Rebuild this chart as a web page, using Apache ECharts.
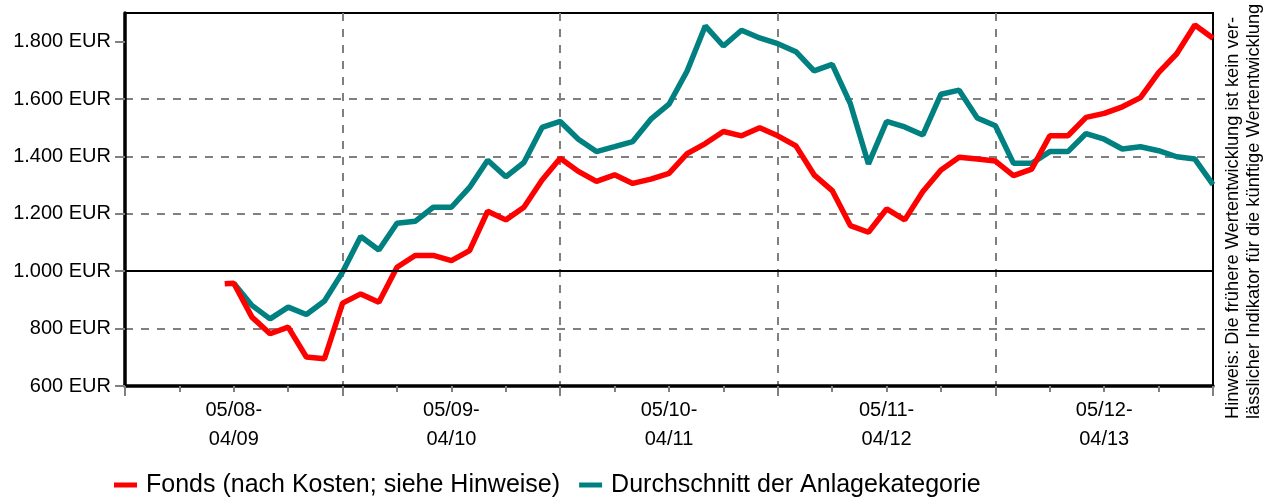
<!DOCTYPE html>
<html>
<head>
<meta charset="utf-8">
<script src="https://cdn.jsdelivr.net/npm/echarts@6/dist/echarts.min.js"></script>
<style>
html,body{margin:0;padding:0;background:#fff;}
#chart{width:1272px;height:497px;}
</style>
</head>
<body>
<div id="chart"></div>
<script>
// ---- data ----
const periodLabels = ['05/08-\n04/09', '05/09-\n04/10', '05/10-\n04/11', '05/11-\n04/12', '05/12-\n04/13'];
const yTickValues = [600, 800, 1000, 1200, 1400, 1600, 1800];
const fondsName = 'Fonds (nach Kosten; siehe Hinweise)';
const avgName = 'Durchschnitt der Anlagekategorie';
// months counted from 05/2008; the fund line starts half a month before the category line
const fondsFirstMonth = 5.5;
const fondsValues = [956, 958, 840, 782, 805, 701, 695, 889, 921, 892, 1014, 1055, 1055, 1037, 1072,
  1209, 1179, 1223, 1318, 1394, 1348, 1313, 1336, 1306, 1321, 1341, 1410, 1445, 1487, 1472, 1500,
  1472, 1437, 1336, 1281, 1159, 1136, 1217, 1179, 1278, 1353, 1397, 1391, 1384, 1333, 1356, 1472, 1472,
  1536, 1550, 1573, 1605, 1692, 1758, 1858, 1812];
const avgFirstMonth = 6;
const avgValues = [958, 881, 834, 875, 849, 896, 997, 1121, 1074, 1167, 1174, 1223, 1223, 1292,
  1387, 1329, 1379, 1501, 1522, 1460, 1417, 1434, 1452, 1530, 1582, 1698, 1855, 1785, 1840, 1813,
  1793, 1765, 1698, 1721, 1584, 1374, 1522, 1503, 1475, 1617, 1631, 1534, 1507, 1376, 1376,
  1417, 1417, 1480, 1460, 1426, 1434, 1420, 1399, 1391, 1302];
const noteText = 'Hinweis: Die frühere Wertentwicklung ist kein ver-\nlässlicher Indikator für die künftige Wertentwicklung';

// first point at firstMonth, following points on whole months
function toPoints(firstMonth, values) {
  const base = Math.ceil(firstMonth);
  return values.map((v, i) => {
    if (i === 0) return [firstMonth, v];
    return [firstMonth % 1 ? base + i - 1 : firstMonth + i, v];
  });
}
const fondsData = toPoints(fondsFirstMonth, fondsValues);
const avgData = toPoints(avgFirstMonth, avgValues);

const FONT = "'Liberation Sans', Arial, sans-serif";
const gridGray = '#808080';

function fmtEur(v) {
  const s = String(Math.round(v));
  const t = s.length > 3 ? s.slice(0, s.length - 3) + '.' + s.slice(s.length - 3) : s;
  return t + ' EUR';
}

const chart = echarts.init(document.getElementById('chart'), null, {renderer: 'canvas'});
chart.setOption({
  animation: false,
  backgroundColor: '#fff',
  textStyle: {fontFamily: FONT},
  grid: {left: 125, right: 59, top: 13, bottom: 111, show: true, borderColor: '#000', borderWidth: 2, backgroundColor: 'transparent'},
  legend: {
    data: [fondsName, avgName],
    left: 114, top: 471, padding: 0,
    icon: 'rect', itemWidth: 23, itemHeight: 5, itemGap: 19,
    textStyle: {fontSize: 25, color: '#000', fontFamily: FONT, padding: [0, 0, 0, 4], lineHeight: 28}
  },
  xAxis: [
    {
      type: 'category', position: 'bottom', data: periodLabels, boundaryGap: true,
      axisLine: {show: false}, axisTick: {show: false}, splitLine: {show: false},
      axisLabel: {fontSize: 20, lineHeight: 29, margin: 10, color: '#000', fontFamily: FONT}
    },
    {
      type: 'value', position: 'bottom', min: 0, max: 60, interval: 12,
      axisLine: {show: true, onZero: false, lineStyle: {color: '#000', width: 3.5}},
      axisTick: {show: true, length: 10, lineStyle: {color: gridGray, width: 2}},
      minorTick: {show: true, splitNumber: 4, length: 6, lineStyle: {color: gridGray, width: 2}},
      axisLabel: {show: false},
      splitLine: {show: true, showMinLine: false, showMaxLine: false, lineStyle: {color: gridGray, width: 2, type: [8, 8]}}
    }
  ],
  yAxis: {
    type: 'value', min: 600, max: 1900, interval: 200,
    axisLine: {show: true, lineStyle: {color: '#000', width: 3.5}},
    axisTick: {show: true, length: 10, customValues: yTickValues, lineStyle: {color: gridGray, width: 2}},
    axisLabel: {customValues: yTickValues, formatter: fmtEur, fontSize: 20, color: '#000', margin: 14, fontFamily: FONT},
    splitLine: {show: true, showMinLine: false, showMaxLine: false, lineStyle: {color: gridGray, width: 2, type: [8, 8]}}
  },
  graphic: [{
    type: 'text', x: 1243, y: 419, rotation: Math.PI / 2,
    style: {text: noteText, font: "18.3px 'Liberation Sans', Arial, sans-serif", fill: '#000',
      align: 'left', verticalAlign: 'middle', lineHeight: 21}
  }],
  series: [
    {
      name: 'ref', type: 'line', xAxisIndex: 1, data: [], z: 1, silent: true,
      markLine: {silent: true, symbol: 'none', label: {show: false},
        lineStyle: {color: '#000', type: 'solid', width: 2}, data: [{yAxis: 1000}]}
    },
    {
      name: avgName, type: 'line', xAxisIndex: 1, data: avgData, showSymbol: false, symbol: 'none', z: 3,
      color: '#008080', lineStyle: {color: '#008080', width: 5.5}
    },
    {
      name: fondsName, type: 'line', xAxisIndex: 1, data: fondsData, showSymbol: false, symbol: 'none', z: 4,
      color: '#FF0000', lineStyle: {color: '#FF0000', width: 5.5}
    }
  ]
});
</script>
</body>
</html>
